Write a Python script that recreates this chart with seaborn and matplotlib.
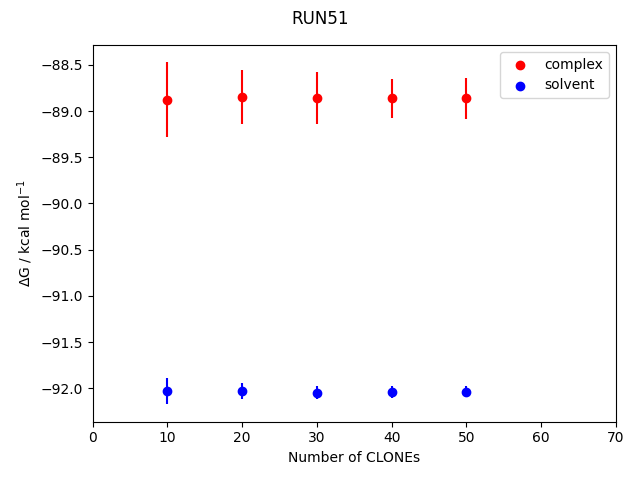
import matplotlib
matplotlib.use("Agg")
import matplotlib.pyplot as plt
import seaborn as sns
import pandas as pd

clones = [10, 20, 30, 40, 50]
complex_dg = [-88.877, -88.847, -88.858, -88.860, -88.860]
complex_err = [0.406, 0.290, 0.280, 0.211, 0.222]
solvent_dg = [-92.029, -92.029, -92.046, -92.036, -92.036]
solvent_err = [0.144, 0.088, 0.072, 0.063, 0.057]

df_c = pd.DataFrame({"clones": clones, "dg": complex_dg})
df_s = pd.DataFrame({"clones": clones, "dg": solvent_dg})

fig, ax = plt.subplots(figsize=(6.4, 4.8), dpi=100)
sns.scatterplot(data=df_c, x="clones", y="dg", color="red", label="complex",
                s=36, edgecolor="face", linewidth=1.0, ax=ax, zorder=3, legend=False)
sns.scatterplot(data=df_s, x="clones", y="dg", color="blue", label="solvent",
                s=36, edgecolor="face", linewidth=1.0, ax=ax, zorder=3, legend=False)
ax.errorbar(clones, complex_dg, yerr=complex_err, fmt="none", ecolor="red", elinewidth=1.5)
ax.errorbar(clones, solvent_dg, yerr=solvent_err, fmt="none", ecolor="blue", elinewidth=1.5)
ax.set_xlim(0, 70)
ax.set_xlabel("Number of CLONEs")
ax.set_ylabel(r"$\Delta$G / kcal mol$^{-1}$")
ax.legend(loc="upper right")
fig.suptitle("RUN51")
fig.subplots_adjust(left=92.7 / 640, right=616 / 640, bottom=1 - 421.5 / 480, top=1 - 45 / 480)
fig.savefig("out.png", dpi=100)
